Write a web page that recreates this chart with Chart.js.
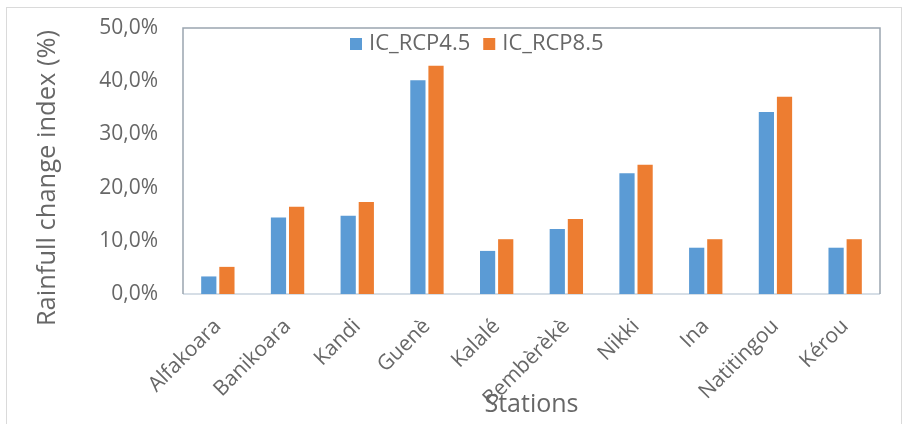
<!DOCTYPE html>
<html>
<head>
<meta charset="utf-8">
<script src="https://cdn.jsdelivr.net/npm/chart.js@4"></script>
<style>
  html, body { margin: 0; padding: 0; background: #fff; }
  #wrap { position: relative; width: 906px; height: 424px; }
</style>
</head>
<body>
<div id="wrap"><canvas id="chart"></canvas></div>
<script>
const stations = ['Alfakoara', 'Banikoara', 'Kandi', 'Guenè', 'Kalalé', 'Bembèrèkè', 'Nikki', 'Ina', 'Natitingou', 'Kérou'];
const rcp45 = [3.3, 14.4, 14.7, 40.2, 8.1, 12.2, 22.7, 8.7, 34.2, 8.7];
const rcp85 = [5.1, 16.4, 17.3, 42.9, 10.3, 14.1, 24.3, 10.3, 37.1, 10.3];
const yTickLabels = ['0,0%', '10,0%', '20,0%', '30,0%', '40,0%', '50,0%'];

const textColor = '#676767';
const font = '"Open Sans", "DejaVu Sans", sans-serif';

// outer border + plot frame + legend inside plot + y axis title
const decor = {
    id: 'decor',
    beforeDraw(chart) {
        const ctx = chart.ctx;
        ctx.save();
        ctx.strokeStyle = '#dadada';
        ctx.lineWidth = 1;
        ctx.strokeRect(6.5, 7.5, 895, 440);
        ctx.restore();
    },
    beforeDatasetsDraw(chart) {
        const { ctx, chartArea: a } = chart;
        ctx.save();
        ctx.lineWidth = 1.5;
        ctx.strokeStyle = '#c8d3de';
        ctx.beginPath();
        ctx.moveTo(a.left, a.bottom);
        ctx.lineTo(a.right, a.bottom);
        ctx.stroke();
        ctx.strokeStyle = '#9aa5b0';
        ctx.beginPath();
        ctx.moveTo(a.left, a.bottom);
        ctx.lineTo(a.left, a.top);
        ctx.lineTo(a.right, a.top);
        ctx.lineTo(a.right, a.bottom);
        ctx.stroke();
        ctx.restore();
    },
    afterDraw(chart) {
        const ctx = chart.ctx;
        ctx.save();
        // legend
        ctx.font = '22px ' + font;
        ctx.textBaseline = 'middle';
        ctx.textAlign = 'left';
        let x = 350;
        const y = 44;
        chart.data.datasets.forEach(ds => {
            ctx.fillStyle = ds.backgroundColor;
            ctx.fillRect(x, y - 6, 12, 12);
            ctx.fillStyle = textColor;
            ctx.fillText(ds.label, x + 19, y);
            x += 19 + ctx.measureText(ds.label).width + 13;
        });
        // y title
        ctx.translate(48, 178);
        ctx.rotate(-Math.PI / 2);
        ctx.textAlign = 'center';
        ctx.font = '25.5px ' + font;
        ctx.fillText('Rainfull change index (%)', 0, 0);
        ctx.restore();
    }
};

new Chart(document.getElementById('chart').getContext('2d'), {
    type: 'bar',
    data: {
        labels: stations,
        datasets: [
            { label: 'IC_RCP4.5', data: rcp45, backgroundColor: '#5b9bd5' },
            { label: 'IC_RCP8.5', data: rcp85, backgroundColor: '#ed7d31' }
        ]
    },
    options: {
        responsive: true,
        maintainAspectRatio: false,
        animation: false,
        layout: { padding: { left: 0, right: 26, top: 28, bottom: 4 } },
        datasets: { bar: { barPercentage: 0.84, categoryPercentage: 0.52 } },
        plugins: { legend: { display: false }, tooltip: { enabled: false } },
        scales: {
            x: {
                grid: { display: false, drawTicks: false },
                border: { display: false },
                ticks: {
                    color: textColor, font: { family: font, size: 21 },
                    minRotation: 45, maxRotation: 45, autoSkip: false, padding: 20
                },
                title: {
                    display: true, text: 'Stations', color: textColor,
                    font: { family: font, size: 25 }, padding: { top: 0, bottom: 0 }
                },
                afterFit(scale) { scale.height = 126; }
            },
            y: {
                min: 0, max: 50,
                // tickLength gives the label gap; no tick lines are drawn
                grid: { display: false, drawTicks: true, tickLength: 22 },
                border: { display: false },
                ticks: {
                    stepSize: 10, padding: 3, color: textColor,
                    font: { family: font, size: 21 },
                    callback: (v, i) => yTickLabels[i]
                },
                afterFit(scale) { scale.width = 183; }
            }
        }
    },
    plugins: [decor]
});
</script>
</body>
</html>
